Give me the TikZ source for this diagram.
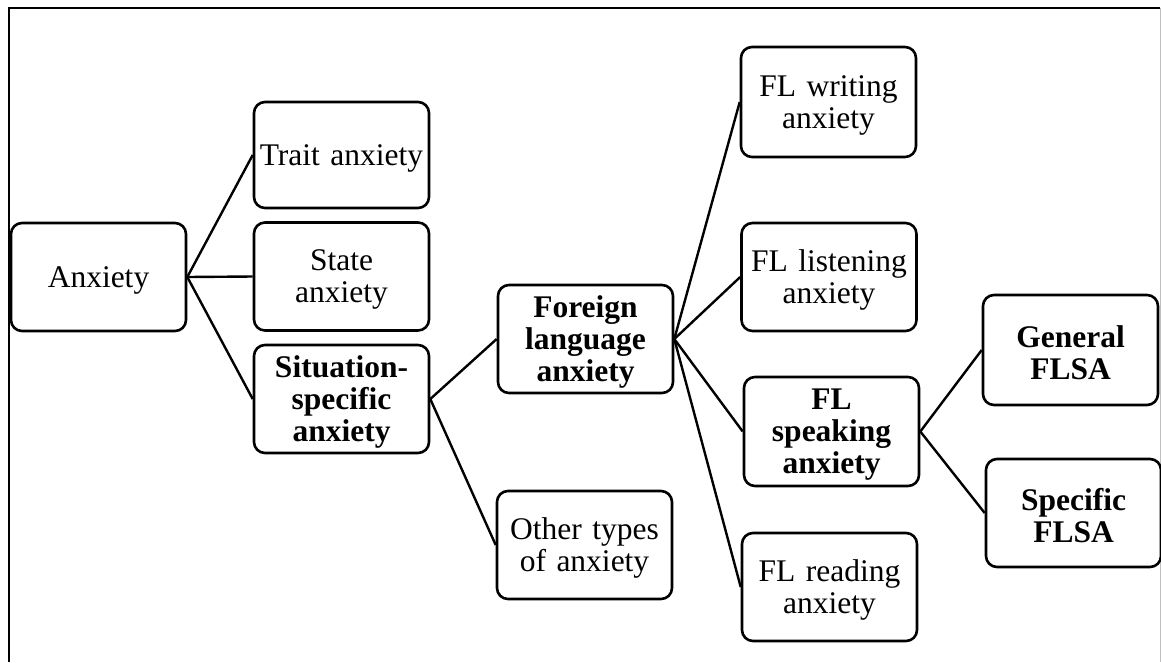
\documentclass[tikz,border=0pt]{standalone}
\usepackage{fontspec}
\setmainfont{Liberation Serif}
\begin{document}
\begin{tikzpicture}[x=1pt,y=-1pt,
  box/.style={draw=black, line width=2.6pt, rounded corners=11pt,
    minimum width=175pt, minimum height=108pt, inner sep=0pt},
  txt/.style={inner sep=0pt, text width=172pt, align=center,
    font=\fontsize{31.5}{32}\selectfont},
  boldtxt/.style={txt, font=\fontsize{31.5}{32}\selectfont\bfseries},
  link/.style={draw=black, line width=2.4pt}]
\useasboundingbox (0,0) rectangle (1161,662);
% frame around the figure
\draw[black, line width=1.6pt] (9,662) -- (9,8) -- (1160,8);
\draw[gray!50, line width=1pt] (1160,8) -- (1160,662);

% boxes
\node[box] (anx) at (98.5,277) {};
\node[box, minimum height=106pt] (trait) at (341.5,155) {};
\node[box] (state) at (341.5,276.5) {};
\node[box] (sit) at (341.5,399) {};
\node[box] (fla) at (585.5,339) {};
\node[box] (other) at (584.5,545) {};
\node[box, minimum height=110pt] (writ) at (828.5,102) {};
\node[box] (list) at (829,277) {};
\node[box, minimum height=109pt] (speak) at (831.5,431.5) {};
\node[box] (read) at (829.5,587) {};
\node[box, minimum height=110pt] (gen) at (1070.5,350) {};
\node[box] (spec) at (1073.5,513) {};

% box texts, set slightly below the geometric centre
\node[txt] (anxT) at ([yshift=-3pt]anx.center) {Anxiety};
\node[txt] (traitT) at ([yshift=-3pt]trait.center) {Trait anxiety};
\node[txt] (stateT) at ([yshift=-3pt]state.center) {State\\anxiety};
\node[boldtxt] (sitT) at ([yshift=-3pt]sit.center) {Situation-\\specific\\anxiety};
\node[boldtxt] (flaT) at ([yshift=-3pt]fla.center) {Foreign\\language\\anxiety};
\node[txt] (otherT) at ([yshift=-3pt]other.center) {Other types\\of anxiety};
\node[txt] (writT) at ([yshift=-3pt]writ.center) {FL writing\\anxiety};
\node[txt] (listT) at ([yshift=-3pt]list.center) {FL listening\\anxiety};
\node[boldtxt] (speakT) at ([yshift=-3pt]speak.center) {FL\\speaking\\anxiety};
\node[txt] (readT) at ([yshift=-3pt]read.center) {FL reading\\anxiety};
\node[boldtxt] (genT) at ([yshift=-3pt]gen.center) {General\\FLSA};
\node[boldtxt] (specT) at ([yshift=-3pt]spec.center) {Specific\\FLSA};

% connectors
\draw[link] (anx.east) -- (trait.west);
\draw[link] (anx.east) -- (state.west);
\draw[link] (anx.east) -- (sit.west);
\draw[link] (sit.east) -- (fla.west);
\draw[link] (sit.east) -- (other.west);
\draw[link] (fla.east) -- (writ.west);
\draw[link] (fla.east) -- (list.west);
\draw[link] (fla.east) -- (speak.west);
\draw[link] (fla.east) -- (read.west);
\draw[link] (speak.east) -- (gen.west);
\draw[link] (speak.east) -- (spec.west);
\end{tikzpicture}
\end{document}
